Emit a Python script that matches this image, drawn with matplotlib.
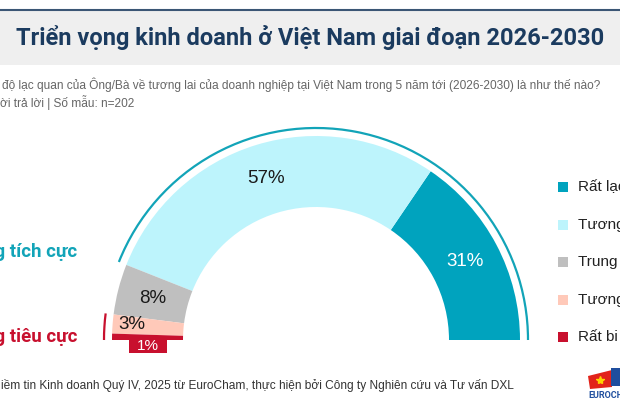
import numpy as np
import matplotlib.pyplot as plt
from matplotlib.patches import Rectangle, Arc, Polygon

# ---- data ----
labels = ["Rất lạc quan", "Tương đối lạc quan", "Trung lập",
          "Tương đối bi quan", "Rất bi quan"]
shares = [31, 57, 8, 3, 1]
colors = ["#00A3BE", "#BDF4FC", "#BFBFBF", "#FFC9B9", "#C8102E"]
pct_text = ["31%", "57%", "8%", "3%", "1%"]
pct_colors = ["white", "#1a1a1a", "#1a1a1a", "#1a1a1a", "white"]

group_names = ["Xu hướng tích cực", "Xu hướng tiêu cực"]
group_members = [[0, 1], [3, 4]]
group_colors = ["#12A4B8", "#C8102E"]

title = "Triển vọng kinh doanh ở Việt Nam giai đoạn 2026-2030"
sub1 = "độ lạc quan của Ông/Bà về tương lai của doanh nghiệp tại Việt Nam trong 5 năm tới (2026-2030) là như thế nào?"
sub2 = "ời trả lời | Số mẫu: n=202"
footer = "iềm tin Kinh doanh Quý IV, 2025 từ EuroCham, thực hiện bởi Công ty Nghiên cứu và Tư vấn DXL"

BOLD = ["Roboto", "DejaVu Sans"]
PLAIN = ["Liberation Sans", "DejaVu Sans"]

# ---- figure (1 data unit = 1 pixel) ----
W, H = 620, 413
fig = plt.figure(figsize=(6.2, 4.13), dpi=100)
ax = fig.add_axes([0, 0, 1, 1])


def Y(y):
    # image y (top-down) -> axes y (bottom-up)
    return H - y


cx, cy = 316, Y(340)
R_out, ring = 204, 71

ax.pie(shares + [sum(shares)], colors=colors + ["none"], startangle=0,
       counterclock=True, radius=R_out, center=(cx, cy),
       wedgeprops=dict(width=ring, linewidth=0))
ax.set_xlim(0, W)
ax.set_ylim(0, H)
ax.set_aspect("auto")
ax.axis("off")

edges = np.concatenate([[0], np.cumsum(shares)]) * 180 / sum(shares)
mids = np.radians((edges[:-1] + edges[1:]) / 2)

# percent labels
r_mid = R_out - ring / 2
for i in range(3):
    ax.text(cx + r_mid * np.cos(mids[i]), cy + r_mid * np.sin(mids[i]),
            pct_text[i], ha="center", va="center", fontsize=13.5,
            color=pct_colors[i], family=PLAIN)
ax.text(cx + (R_out - 6) * np.cos(mids[3]), cy + (R_out - 6) * np.sin(mids[3]),
        pct_text[3], ha="left", va="center", fontsize=13.5,
        color=pct_colors[3], family=PLAIN)
ax.add_patch(Rectangle((cx - r_mid - 19, cy - 13), 38, 13, color=colors[4], lw=0))
ax.text(cx - r_mid, cy - 6.5, pct_text[4], ha="center", va="center",
        fontsize=11, color=pct_colors[4], family=PLAIN)

# group arcs + labels
R_arc = 212
for name, mem, col, ly in zip(group_names, group_members, group_colors, [252, 337]):
    t1, t2 = edges[min(mem)], edges[max(mem) + 1]
    ax.add_patch(Arc((cx, cy), 2 * R_arc, 2 * R_arc, theta1=t1, theta2=t2,
                     color=col, lw=1.6))
    ax.text(77, Y(ly), name, ha="right", va="center", fontsize=13.5,
            fontweight="bold", color=col, family=BOLD)

# legend
for i, (lab, col) in enumerate(zip(labels, colors)):
    yy = Y(187 + i * 37.5)
    ax.add_patch(Rectangle((558, yy - 5), 10, 10, color=col, lw=0))
    ax.text(578, yy, lab, ha="left", va="center", fontsize=11,
            color="#222222", family=PLAIN)

# title band
ax.add_patch(Rectangle((0, Y(65)), W, 54, color="#EFEFEF", lw=0))
ax.plot([0, W], [Y(10), Y(10)], color="#3B5675", lw=1.5)
ax.text(310, Y(38), title, ha="center", va="center", fontsize=17,
        fontweight="bold", color="#1B3B5F", family=BOLD)

ax.text(2, Y(85), sub1, ha="left", va="center", fontsize=8.6,
        color="#666666", family=PLAIN)
ax.text(0, Y(102), sub2, ha="left", va="center", fontsize=8.6,
        color="#666666", family=PLAIN)

ax.text(1, Y(385), footer, ha="left", va="center", fontsize=8.6,
        color="#333333", family=PLAIN)

# EuroCham logo (rough)
ax.add_patch(Polygon([(588, Y(376)), (612, Y(370)), (612, Y(387)), (590, Y(389))],
                     color="#E2231A", lw=0))
ax.plot([600], [Y(380)], marker="*", color="#FFD200", ms=6)
ax.add_patch(Rectangle((611, Y(386)), 9, 18, color="#1F4E9E", lw=0))
ax.text(588, Y(396), "EUROCHAM", ha="left", va="center", fontsize=6.5,
        fontweight="bold", color="#1F4E9E", family=BOLD)

fig.savefig("out.png", dpi=100)
